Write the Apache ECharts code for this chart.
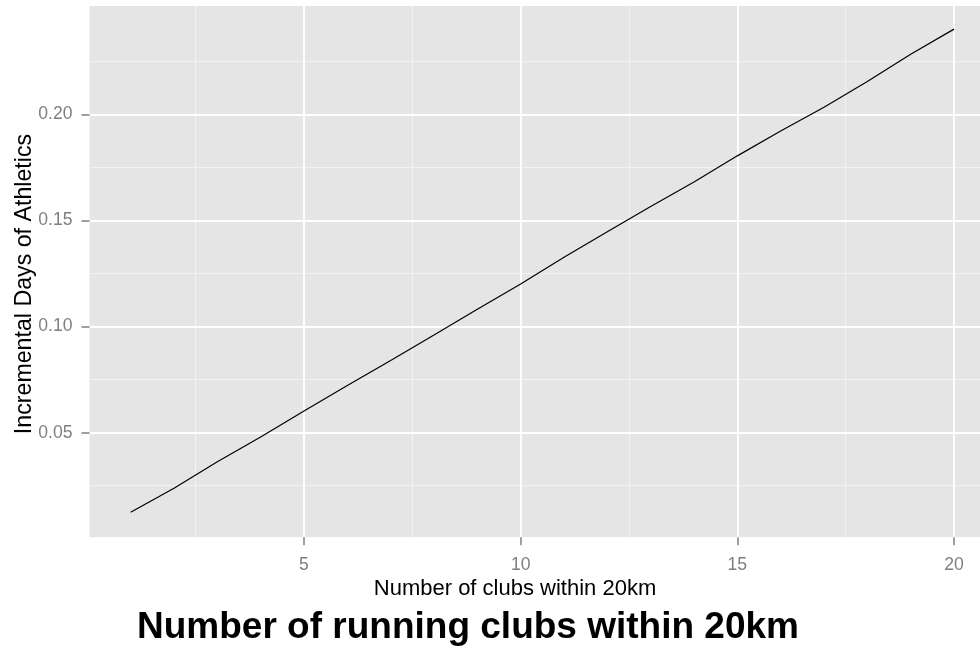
<!DOCTYPE html>
<html><head><meta charset="utf-8">
<script src="https://cdn.jsdelivr.net/npm/echarts@6/dist/echarts.min.js"></script>
<style>html,body{margin:0;padding:0;background:#fff}#c{width:980px;height:647px}</style>
</head><body><div id="c"></div>
<script>
// ---- data ----
const clubs = [1,2,3,4,5,6,7,8,9,10,11,12,13,14,15,16,17,18,19,20];
const incrementalDays = [0.0125,0.0238,0.0363,0.0480,0.0602,0.0722,0.0840,0.0960,0.1081,0.1200,
                         0.1326,0.1446,0.1565,0.1681,0.1804,0.1921,0.2033,0.2154,0.2283,0.2401];
const xTicks = [5,10,15,20];
const xMinor = [2.5,7.5,12.5,17.5];
const yTicks = [0.05,0.10,0.15,0.20];
const yMinor = [0.025,0.075,0.125,0.175,0.225];
const xTitle = 'Number of clubs within 20km';
const yTitle = 'Incremental Days of Athletics';
const mainTitle = 'Number of running clubs within 20km';

const FONT = '"Liberation Sans", Arial, Helvetica, sans-serif';
const chart = echarts.init(document.getElementById('c'), null, {renderer:'canvas'});

const grey = '#7F7F7F';
const majorAxis = (ticks, extra) => Object.assign({
  type:'value',
  axisLine:{show:false},
  axisTick:{show:true, length:8, inside:false, customValues:ticks, lineStyle:{color:grey, width:1.5}},
  axisLabel:{customValues:ticks, color:grey, fontSize:17.6, fontFamily:FONT},
  splitLine:{show:true, lineStyle:{color:'#FFFFFF', width:1.8}},
  z:3
}, extra);
const minorAxis = (ticks, extra) => Object.assign({
  type:'value',
  axisLine:{show:false},
  axisTick:{show:false, customValues:ticks},
  axisLabel:{show:false, customValues:ticks},
  splitLine:{show:true, lineStyle:{color:'#F2F2F2', width:1}},
  z:2
}, extra);

chart.setOption({
  animation:false,
  backgroundColor:'#FFFFFF',
  grid:{left:89.5, top:6, right:0, height:531.3, show:true, backgroundColor:'#E5E5E5', borderWidth:0, outerBoundsMode:'none'},
  xAxis:[
    majorAxis(xTicks, {min:0.05, max:20.6, position:'bottom', axisLabel:{customValues:xTicks, color:grey, fontSize:17.6, fontFamily:FONT, margin:19}}),
    minorAxis(xMinor, {min:0.05, max:20.6, position:'top'})
  ],
  yAxis:[
    majorAxis(yTicks, {min:0.0007, max:0.2510, position:'left',
      axisLabel:{customValues:yTicks, color:grey, fontSize:17.6, fontFamily:FONT, margin:17, formatter:v=>v.toFixed(2)}}),
    minorAxis(yMinor, {min:0.0007, max:0.2510, position:'right'})
  ],
  series:[{
    type:'line',
    xAxisIndex:0, yAxisIndex:0,
    data:clubs.map((x,i)=>[x, incrementalDays[i]]),
    showSymbol:false, symbol:'none',
    lineStyle:{color:'#000000', width:1.2},
    z:10
  }],
  graphic:[
    {type:'text', x:515, y:589, style:{text:xTitle, fontSize:22, fontFamily:FONT, fill:'#000', align:'center', verticalAlign:'middle'}},
    {type:'text', x:25, y:284, rotation:Math.PI/2, style:{text:yTitle, fontSize:23.2, fontFamily:FONT, fill:'#000', align:'center', verticalAlign:'middle'}},
    {type:'text', x:468, y:627.5, style:{text:mainTitle, fontSize:37, fontWeight:'bold', fontFamily:FONT, fill:'#000', align:'center', verticalAlign:'middle'}}
  ]
});
</script></body></html>
